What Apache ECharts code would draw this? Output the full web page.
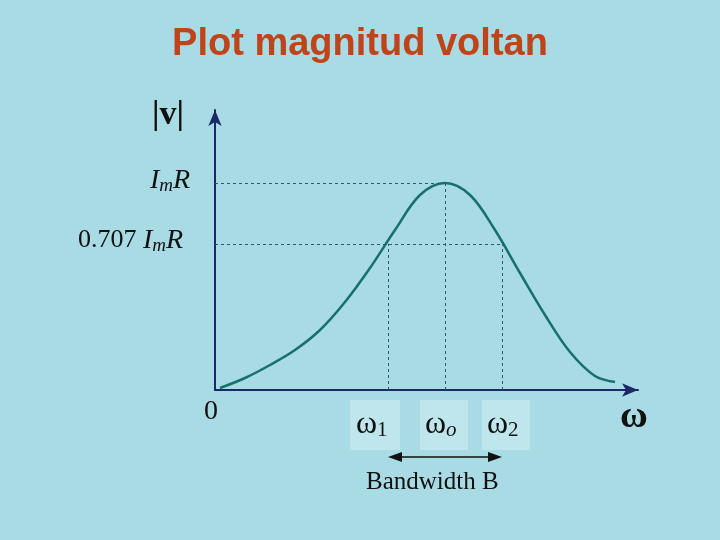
<!DOCTYPE html>
<html>
<head>
<meta charset="UTF-8">
<script src="https://cdn.jsdelivr.net/npm/echarts@6/dist/echarts.min.js"></script>
</head>
<body style="margin:0;background:#a9dbe4;">
<div id="main" style="width:720px;height:540px;"></div>
<script>
// curve: x = offset along axis, y = height above axis
var curveX = [5, 30, 55, 80, 105, 130, 155, 180, 205, 230, 255, 280, 305, 330, 355, 380, 400];
var curveY = [2, 12, 25, 40, 60, 88, 122, 160, 195, 207, 195, 160, 117, 75, 38, 14, 8];
var peakX = 230, peakY = 207;
var w1X = 173, w2X = 287, halfY = 146;

var chart = echarts.init(document.getElementById('main'));
var serif = 'Liberation Serif';
var lineStyleDash = { color: '#2a5a70', type: [3, 3], width: 1 };

chart.setOption({
    backgroundColor: '#a9dbe4',
    grid: { left: 215, right: 82, top: 110, bottom: 150 },
    xAxis: {
        type: 'value', min: 0, max: 423,
        axisLine: { lineStyle: { color: '#1a2a66', width: 2 }, symbol: ['none', 'arrow'], symbolSize: [10, 16] },
        axisTick: { show: false }, axisLabel: { show: false }, splitLine: { show: false }
    },
    yAxis: {
        type: 'value', min: 0, max: 280,
        axisLine: { show: true, lineStyle: { color: '#1a2a66', width: 2 }, symbol: ['none', 'arrow'], symbolSize: [10, 16] },
        axisTick: { show: false }, axisLabel: { show: false }, splitLine: { show: false }
    },
    series: [{
        type: 'line', smooth: 0.35, symbol: 'none',
        lineStyle: { color: '#16706e', width: 2.5 },
        data: curveX.map(function (x, i) { return [x, curveY[i]]; }),
        markLine: {
            silent: true, symbol: 'none', label: { show: false },
            lineStyle: lineStyleDash,
            data: [
                [{ coord: [0, peakY] }, { coord: [peakX, peakY] }],
                [{ coord: [0, halfY] }, { coord: [w2X, halfY] }],
                [{ coord: [peakX, 0] }, { coord: [peakX, peakY] }],
                [{ coord: [w1X, 0] }, { coord: [w1X, halfY] }],
                [{ coord: [w2X, 0] }, { coord: [w2X, halfY] }]
            ]
        }
    }],
    graphic: [
        { type: 'text', left: 'center', top: 26, style: { text: 'Plot magnitud voltan', font: 'bold 38px Liberation Sans', fill: '#c0441a', shadowColor: 'rgba(0,0,0,0.35)', shadowOffsetX: 2, shadowOffsetY: 2, shadowBlur: 2 } },
        { type: 'text', x: 152, y: 98, style: { text: '|v|', font: 'bold 34px ' + serif, fill: '#111' } },
        { type: 'text', x: 150, y: 166, style: { text: '{i|I}{s|m}{i|R}', rich: { i: { font: 'italic 28px ' + serif, fill: '#111' }, s: { font: 'italic 19px ' + serif, fill: '#111', padding: [10, 0, 0, 0] } } } },
        { type: 'text', x: 78, y: 226, style: { text: '{n|0.707 }{i|I}{s|m}{i|R}', rich: { n: { font: '26px ' + serif, fill: '#111' }, i: { font: 'italic 28px ' + serif, fill: '#111' }, s: { font: 'italic 19px ' + serif, fill: '#111', padding: [10, 0, 0, 0] } } } },
        { type: 'text', x: 204, y: 398, style: { text: '0', font: '28px ' + serif, fill: '#111' } },
        { type: 'rect', shape: { x: 350, y: 400, width: 50, height: 50 }, style: { fill: 'rgba(200,235,240,0.7)' } },
        { type: 'rect', shape: { x: 420, y: 400, width: 48, height: 50 }, style: { fill: 'rgba(200,235,240,0.7)' } },
        { type: 'rect', shape: { x: 482, y: 400, width: 48, height: 50 }, style: { fill: 'rgba(200,235,240,0.7)' } },
        { type: 'text', x: 356, y: 408, style: { text: '{w|ω}{s|1}', rich: { w: { font: '32px ' + serif, fill: '#111' }, s: { font: '21px ' + serif, fill: '#111', padding: [12, 0, 0, 0] } } } },
        { type: 'text', x: 425, y: 408, style: { text: '{w|ω}{s|o}', rich: { w: { font: '32px ' + serif, fill: '#111' }, s: { font: 'italic 21px ' + serif, fill: '#111', padding: [12, 0, 0, 0] } } } },
        { type: 'text', x: 487, y: 408, style: { text: '{w|ω}{s|2}', rich: { w: { font: '32px ' + serif, fill: '#111' }, s: { font: '21px ' + serif, fill: '#111', padding: [12, 0, 0, 0] } } } },
        { type: 'text', x: 620, y: 398, style: { text: 'ω', font: 'bold 38px ' + serif, fill: '#111' } },
        { type: 'line', shape: { x1: 392, y1: 457, x2: 498, y2: 457 }, style: { stroke: '#111', lineWidth: 1.5 } },
        { type: 'polygon', shape: { points: [[388, 457], [402, 452], [402, 462]] }, style: { fill: '#111' } },
        { type: 'polygon', shape: { points: [[502, 457], [488, 452], [488, 462]] }, style: { fill: '#111' } },
        { type: 'text', x: 366, y: 470, style: { text: 'Bandwidth B', font: '25px ' + serif, fill: '#111' } }
    ]
});
</script>
</body>
</html>
